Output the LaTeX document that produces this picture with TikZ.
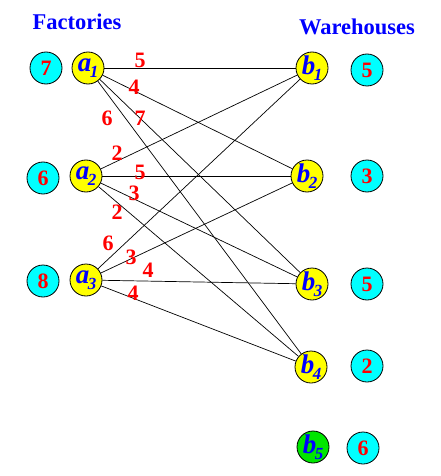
\documentclass[tikz,border=0pt]{standalone}
\usepackage{fontspec}
\setmainfont{Liberation Serif}
\definecolor{cyanc}{RGB}{0,255,255}
\definecolor{yelc}{RGB}{255,255,0}
\definecolor{grnc}{RGB}{0,230,0}
\definecolor{redc}{RGB}{255,0,0}
\definecolor{bluc}{RGB}{0,0,255}
\newcommand\vname[2]{{\fontsize{27}{27}\selectfont\bfseries\itshape\color{bluc}#1\kern-1.5pt\raisebox{-0.5ex}{\fontsize{17}{17}\selectfont #2}}}
\begin{document}
\begin{tikzpicture}[x=1pt,y=-1pt,
  circ/.style={circle,draw=black,line width=0.8pt,minimum size=32pt,inner sep=0pt},
  fac/.style={circ,fill=yelc},
  qty/.style={circ,fill=cyanc,font=\fontsize{22}{22}\selectfont\bfseries,text=redc},
  dum/.style={circ,fill=grnc},
  cost/.style={font=\fontsize{22}{22}\selectfont\bfseries,text=redc,inner sep=0pt},
  ttl/.style={font=\fontsize{22.5}{22.5}\selectfont\bfseries,text=bluc,inner sep=0pt},
  edge/.style={draw=black,line width=0.7pt}]
\useasboundingbox[fill=white] (0,0) rectangle (440,476);
% titles
\node[ttl] (tf) at (77,22) {Factories};
\node[ttl] (tw) at (357,27) {Warehouses};
% supply
\node[qty] (s1) at (46,68) {7};
\node[qty] (s2) at (43,178) {6};
\node[qty] (s3) at (43,281) {8};
% factories
\node[fac,label=center:{\vname{a}{1}}] (a1) at (88,68) {};
\node[fac,label=center:{\vname{a}{2}}] (a2) at (86,176) {};
\node[fac,label=center:{\vname{a}{3}}] (a3) at (86,280) {};
% warehouses
\node[fac,label=center:{\vname{b}{1}}] (b1) at (312,68) {};
\node[fac,label=center:{\vname{b}{2}}] (b2) at (307,176) {};
\node[fac,label=center:{\vname{b}{3}}] (b3) at (312,284) {};
\node[fac,label=center:{\vname{b}{4}}] (b4) at (311,367) {};
\node[dum,label=center:{\vname{b}{5}}] (b5) at (313,447) {};
% demand
\node[qty] (d1) at (367,70) {5};
\node[qty] (d2) at (367,176) {3};
\node[qty] (d3) at (367,284) {5};
\node[qty] (d4) at (367,366) {2};
\node[qty] (d5) at (363,448) {6};
% edges
\foreach \i in {1,2,3}{
  \foreach \j in {1,2,3,4}{
    \draw[edge] (a\i) -- (b\j);
  }
}
% costs
\node[cost] (c11) at (140,60) {5};
\node[cost] (c12) at (134,87) {4};
\node[cost] (c14) at (107,118) {6};
\node[cost] (c13) at (140,118) {7};
\node[cost] (c21) at (117,153) {2};
\node[cost] (c22) at (140,172) {5};
\node[cost] (c23) at (134,193) {3};
\node[cost] (c24) at (117,212) {2};
\node[cost] (c31) at (108,243) {6};
\node[cost] (c32) at (131,257) {3};
\node[cost] (c33) at (148,270) {4};
\node[cost] (c34) at (133,293) {4};
\end{tikzpicture}
\end{document}
